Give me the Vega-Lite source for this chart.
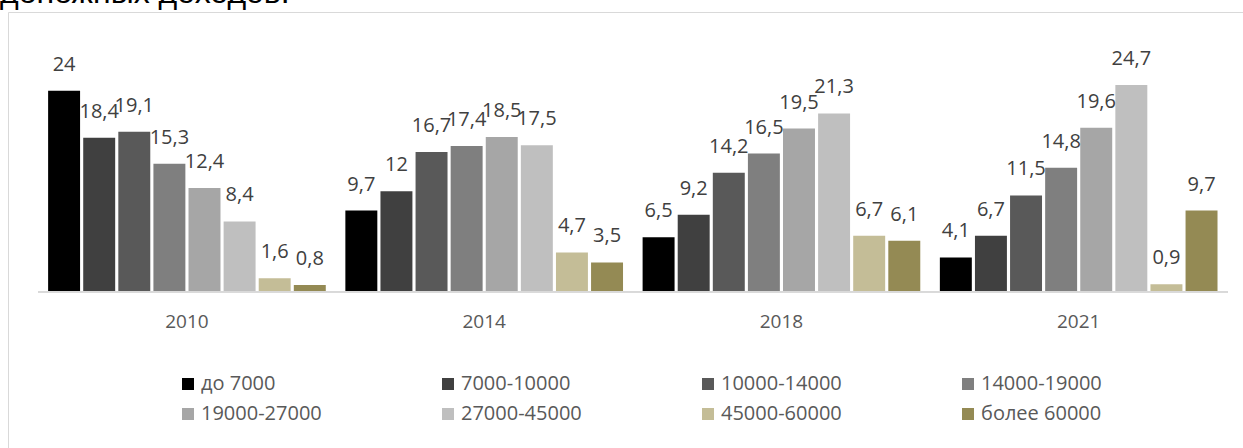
{
  "$schema": "https://vega.github.io/schema/vega-lite/v6.json",
  "autosize": "none",
  "width": 1235,
  "height": 436,
  "padding": {"left": 8, "top": 12, "right": 0, "bottom": 0},
  "background": "white",
  "title": {"text": "денежных доходов.", "anchor": "start", "frame": "group", "orient": "top", "offset": -23, "baseline": "alphabetic", "dx": -8, "font": "Liberation Sans", "fontSize": 32, "fontWeight": "normal", "color": "#000000"},
  "config": {
    "view": {"stroke": "#d9d9d9", "strokeWidth": 1, "fill": "white"},
    "locale": {"number": {"decimal": ",", "thousands": " ", "grouping": [3], "currency": ["", ""]}}
  },
  "data": {"values": [
    {"year": "2010", "group": "до 7000", "value": 24},
    {"year": "2010", "group": "7000-10000", "value": 18.4},
    {"year": "2010", "group": "10000-14000", "value": 19.1},
    {"year": "2010", "group": "14000-19000", "value": 15.3},
    {"year": "2010", "group": "19000-27000", "value": 12.4},
    {"year": "2010", "group": "27000-45000", "value": 8.4},
    {"year": "2010", "group": "45000-60000", "value": 1.6},
    {"year": "2010", "group": "более 60000", "value": 0.8},
    {"year": "2014", "group": "до 7000", "value": 9.7},
    {"year": "2014", "group": "7000-10000", "value": 12},
    {"year": "2014", "group": "10000-14000", "value": 16.7},
    {"year": "2014", "group": "14000-19000", "value": 17.4},
    {"year": "2014", "group": "19000-27000", "value": 18.5},
    {"year": "2014", "group": "27000-45000", "value": 17.5},
    {"year": "2014", "group": "45000-60000", "value": 4.7},
    {"year": "2014", "group": "более 60000", "value": 3.5},
    {"year": "2018", "group": "до 7000", "value": 6.5},
    {"year": "2018", "group": "7000-10000", "value": 9.2},
    {"year": "2018", "group": "10000-14000", "value": 14.2},
    {"year": "2018", "group": "14000-19000", "value": 16.5},
    {"year": "2018", "group": "19000-27000", "value": 19.5},
    {"year": "2018", "group": "27000-45000", "value": 21.3},
    {"year": "2018", "group": "45000-60000", "value": 6.7},
    {"year": "2018", "group": "более 60000", "value": 6.1},
    {"year": "2021", "group": "до 7000", "value": 4.1},
    {"year": "2021", "group": "7000-10000", "value": 6.7},
    {"year": "2021", "group": "10000-14000", "value": 11.5},
    {"year": "2021", "group": "14000-19000", "value": 14.8},
    {"year": "2021", "group": "19000-27000", "value": 19.6},
    {"year": "2021", "group": "27000-45000", "value": 24.7},
    {"year": "2021", "group": "45000-60000", "value": 0.9},
    {"year": "2021", "group": "более 60000", "value": 9.7}
  ]},
  "encoding": {
    "x": {"field": "year", "type": "nominal", "sort": null,
      "scale": {"paddingInner": 0, "paddingOuter": 0.0774, "align": 0.659},
      "axis": {"orient": "bottom", "offset": -156.3, "domain": false, "ticks": false, "tickSize": 0, "labelPadding": 36, "labelBaseline": "alphabetic", "labelAngle": 0, "labelFont": "Open Sans", "labelFontSize": 19, "labelColor": "#595959", "title": null, "grid": false}},
    "xOffset": {"field": "group", "type": "nominal", "sort": ["до 7000", "7000-10000", "10000-14000", "14000-19000", "19000-27000", "27000-45000", "45000-60000", "более 60000"],
      "scale": {"paddingInner": 0.0894, "paddingOuter": 0.279}},
    "y": {"field": "value", "type": "quantitative",
      "scale": {"domain": [-18.67, 33.42], "nice": false, "zero": false},
      "axis": null}
  },
  "layer": [
    {
      "mark": {"type": "bar"},
      "encoding": {
        "y2": {"datum": 0},
        "color": {"field": "group", "type": "nominal",
          "scale": {"domain": ["до 7000", "7000-10000", "10000-14000", "14000-19000", "19000-27000", "27000-45000", "45000-60000", "более 60000"],
                    "range": ["#000000", "#404040", "#595959", "#7f7f7f", "#a6a6a6", "#bfbfbf", "#c4bd97", "#948a54"]},
          "legend": {"title": null, "orient": "none", "legendX": 170, "legendY": 362, "direction": "horizontal", "columns": 4, "columnPadding": 116, "rowPadding": 10, "padding": 0,
            "symbolType": "square", "symbolSize": 144, "symbolStrokeWidth": 0, "symbolOpacity": 1, "labelOffset": 3,
            "labelFont": "Open Sans", "labelFontSize": 20, "labelColor": "#595959", "labelLimit": 300}}
      }
    },
    {
      "mark": {"type": "text", "baseline": "alphabetic", "dy": -20, "font": "Open Sans", "fontSize": 20, "color": "#404040"},
      "encoding": {
        "text": {"field": "value", "type": "quantitative", "format": ".1~f"}
      }
    },
    {
      "mark": {"type": "rule", "color": "#d9d9d9", "strokeWidth": 1.5},
      "encoding": {
        "x": {"datum": "2010", "bandPosition": 0},
        "x2": {"datum": "2021", "bandPosition": 1},
        "y": {"datum": 0},
        "xOffset": null
      }
    }
  ]
}
